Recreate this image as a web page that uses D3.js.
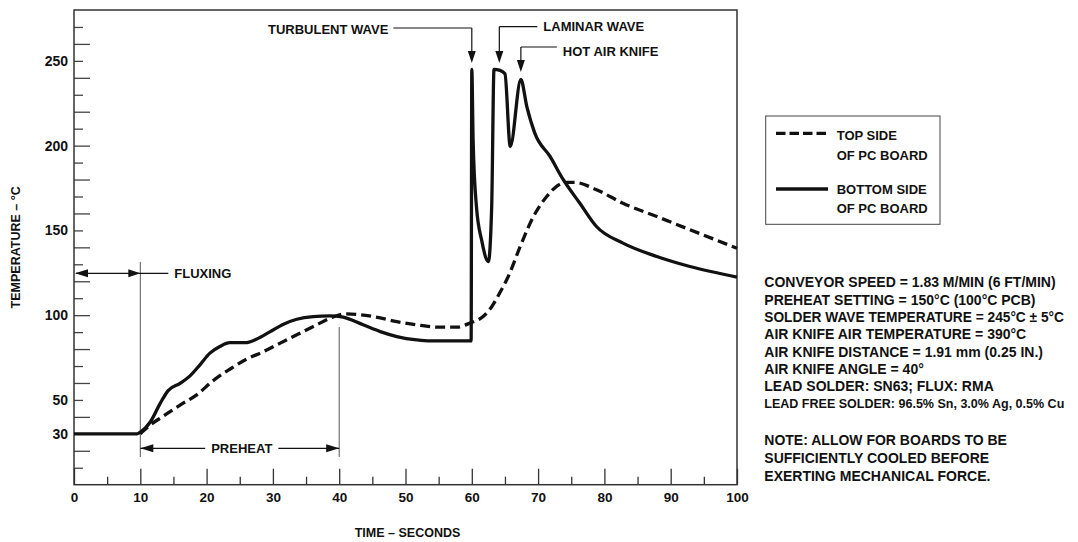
<!DOCTYPE html>
<html><head><meta charset="utf-8">
<script src="https://cdn.jsdelivr.net/npm/d3@7"></script>
<style>
html,body{margin:0;padding:0;background:#fff;}
svg text{font-family:'Liberation Sans',Arial,Helvetica,sans-serif;font-weight:bold;fill:#111;}
</style></head>
<body><svg id="c" width="1078" height="542"></svg>
<script>
// ---- data ----
const bottomTime = [0,9.5,10,11.5,13,14.2,16,17.5,19,20.5,22,23.5,25.8,27.5,29.6,31.6,33.6,36.1,38.6,40.6,43.6,46.2,48.7,51.7,53.7,59.9,60,60.2,60.7,61.5,62.5,63,63.35,64.25,65,65.8,67.4,68.3,69.5,71.8,73.8,76.3,78.8,82.8,87.9,92.9,100];
const bottomTemp = [30,30,31,37,48,55.5,59.8,64.2,70.7,77.6,81.5,83.8,83.8,85.8,90.3,94.7,97.6,99.2,99.6,98.8,94.3,90.3,87.4,85.4,84.8,84.8,245,203,164,144,131.6,164,245,244.4,242.4,199.5,239,223,207.4,193.6,179.9,166,152.3,142.5,134.6,128.7,122.5];
const topTime = [10,11.5,13.5,16,18.5,21,23.5,26,28.6,31.1,33.6,36.1,38.6,41.1,45.1,48.7,51.7,55.2,57.7,59.7,61.7,63,64.2,65.5,67.3,69.3,71.3,72.8,74.3,75.5,78.8,82.8,87.9,92.9,100];
const topTemp = [30,35.2,40.5,47,53,61.4,68.1,74,78.5,83.5,88.4,93.3,98.2,100.8,99.2,96.2,94.3,92.9,92.9,95.3,99.2,105,113,122.8,140.5,158.2,170,176,178.3,178.3,174,166,158.2,150.4,139.5];
const xTickLabels = [0,10,20,30,40,50,60,70,80,90,100];
const xMinorTicks = [5,15,25,35,45,55,65,75,85,95];
const yLabelTicks = [30,50,100,150,200,250];
const yLongTicks = [20,40,60,80,100,120,140,160,180,200,220,240,260];
const yShortTicks = [10,30,50,70,90,110,130,150,170,190,210,230,250,270];
const notes = ["CONVEYOR SPEED = 1.83 M/MIN (6 FT/MIN)","PREHEAT SETTING = 150°C (100°C PCB)","SOLDER WAVE TEMPERATURE = 245°C ± 5°C","AIR KNIFE AIR TEMPERATURE = 390°C","AIR KNIFE DISTANCE = 1.91 mm (0.25 IN.)","AIR KNIFE ANGLE = 40°","LEAD SOLDER: SN63; FLUX: RMA","LEAD FREE SOLDER: 96.5% Sn, 3.0% Ag, 0.5% Cu"];
const note2 = ["NOTE: ALLOW FOR BOARDS TO BE","SUFFICIENTLY COOLED BEFORE","EXERTING MECHANICAL FORCE."];

// ---- layout ----
const svg = d3.select("#c");
const L=74,R=737,T=10,B=484.7;
const x = d3.scaleLinear().domain([0,100]).range([L,R]);
const y = d3.scaleLinear().domain([0,280]).range([B,T]);
const ink="#111";

function yAxis(vals,len){
  const g=svg.append("g").attr("transform",`translate(${L},0)`)
    .call(d3.axisLeft(y).tickValues(vals).tickSize(-len).tickFormat(""));
  g.select(".domain").remove();
  g.selectAll("line").attr("stroke","#444").attr("stroke-width",1.3);
}
yAxis(yLongTicks,16); yAxis(yShortTicks,9);
const yl=svg.append("g").attr("transform",`translate(${L},0)`)
  .call(d3.axisLeft(y).tickValues(yLabelTicks).tickSize(0).tickPadding(6).tickFormat(d3.format("d")));
yl.select(".domain").remove();
yl.selectAll("text").attr("font-size",14).attr("fill",ink);

function xAxis(vals,len){
  const g=svg.append("g").attr("transform",`translate(0,${B})`)
    .call(d3.axisBottom(x).tickValues(vals).tickSize(-len).tickFormat(""));
  g.select(".domain").remove();
  g.selectAll("line").attr("stroke","#333").attr("stroke-width",1.3);
}
xAxis(xTickLabels,16); xAxis(xMinorTicks,8);
const xl=svg.append("g").attr("transform",`translate(0,${B})`)
  .call(d3.axisBottom(x).tickValues(xTickLabels).tickSize(0).tickPadding(8).tickFormat(d3.format("d")));
xl.select(".domain").remove();
xl.selectAll("text").attr("font-size",13.5).attr("fill",ink);

// frame
svg.append("rect").attr("x",L).attr("y",T).attr("width",R-L).attr("height",B-T)
  .attr("fill","none").attr("stroke","#333").attr("stroke-width",1.5);

// axis titles
svg.append("text").attr("x",x(50)+2).attr("y",537).attr("text-anchor","middle").attr("font-size",12.5).text("TIME – SECONDS");
svg.append("text").attr("transform",`translate(20,${(T+B)/2}) rotate(-90)`).attr("text-anchor","middle").attr("font-size",12.5).text("TEMPERATURE – °C");

// helpers
function arrow(tx,ty,dir,len=11,half=4){
  let p;
  if(dir==="down") p=[[tx,ty],[tx-half,ty-len],[tx+half,ty-len]];
  if(dir==="left") p=[[tx,ty],[tx+len,ty-half],[tx+len,ty+half]];
  if(dir==="right") p=[[tx,ty],[tx-len,ty-half],[tx-len,ty+half]];
  svg.append("path").attr("d","M"+p.join("L")+"Z").attr("fill",ink);
}
function line(x1,y1,x2,y2,c=ink,w=1.2){
  return svg.append("line").attr("x1",x1).attr("y1",y1).attr("x2",x2).attr("y2",y2).attr("stroke",c).attr("stroke-width",w);
}
function label(t,xx,yy,fs=13,anchor="start"){
  return svg.append("text").attr("x",xx).attr("y",yy).attr("dy","0.36em").attr("font-size",fs).attr("text-anchor",anchor).text(t);
}
// fluxing / preheat guides
line(x(10),262,x(10),457,"#555",1);
line(x(40),327,x(40),457,"#555",1);
const yf=273.3;
line(x(0)+2,yf,x(10)+28,yf);
arrow(x(0)+1,yf,"left",13,4); arrow(x(10),yf,"right",12,4);
label("FLUXING",x(10)+34,yf);
const yp=448.3;
const pc=(x(10)+x(40))/2+2;
const pt=label("PREHEAT",pc,yp,13,"middle");
const pw=pt.node().getComputedTextLength();
line(x(10),yp,pc-pw/2-6,yp); line(pc+pw/2+6,yp,x(40),yp);
arrow(x(10),yp,"left",13,4); arrow(x(40),yp,"right",13,4);

// wave annotations
const tw=label("TURBULENT WAVE",268,29,13);
const twEnd=268+tw.node().getComputedTextLength();
line(twEnd+5,28,x(60),28); line(x(60),28,x(60),52); arrow(x(60),63,"down",12,4);
const xl2=x(64.15);
line(xl2,26.7,xl2+38,26.7); line(xl2,26.7,xl2,52); arrow(xl2,63,"down",12,4);
label("LAMINAR WAVE",xl2+44,26,13);
const xh=x(67.4);
line(xh,47,xh+36,47); line(xh,47,xh,60); arrow(xh,72,"down",12,4);
label("HOT AIR KNIFE",xh+42,51,13);

// curves
const lineGen = d3.line().x(d=>x(d[0])).y(d=>y(d[1])).curve(d3.curveMonotoneX);
svg.append("path").datum(d3.zip(topTime,topTemp)).attr("d",lineGen)
  .attr("fill","none").attr("stroke",ink).attr("stroke-width",3.3).attr("stroke-dasharray","10,5");
svg.append("path").datum(d3.zip(bottomTime,bottomTemp)).attr("d",lineGen)
  .attr("fill","none").attr("stroke",ink).attr("stroke-width",3.3).attr("stroke-linejoin","round");

// legend
svg.append("rect").attr("x",765.7).attr("y",116).attr("width",174.3).attr("height",108.3)
  .attr("fill","none").attr("stroke","#444").attr("stroke-width",1);
line(776,133.3,828,133.3,ink,3.3).attr("stroke-dasharray","9.5,4");
line(776,189,828,189,ink,3.3);
label("TOP SIDE",836.7,135.7,13); label("OF PC BOARD",836.7,155.7,13);
label("BOTTOM SIDE",836.7,189.7,13); label("OF PC BOARD",836.7,208.3,13);

// notes (shrink any line wider than the space the reference uses)
const maxW=300;
function fitLine(t,xx,yy){
  const el=label(t,xx,yy,14);
  const w=el.node().getComputedTextLength();
  if(w>maxW) el.attr("font-size",(14*maxW/w).toFixed(2));
}
notes.forEach((t,i)=>fitLine(t,764.3,282.3+i*17.35));
note2.forEach((t,i)=>fitLine(t,764.3,440+i*18));
</script></body></html>
